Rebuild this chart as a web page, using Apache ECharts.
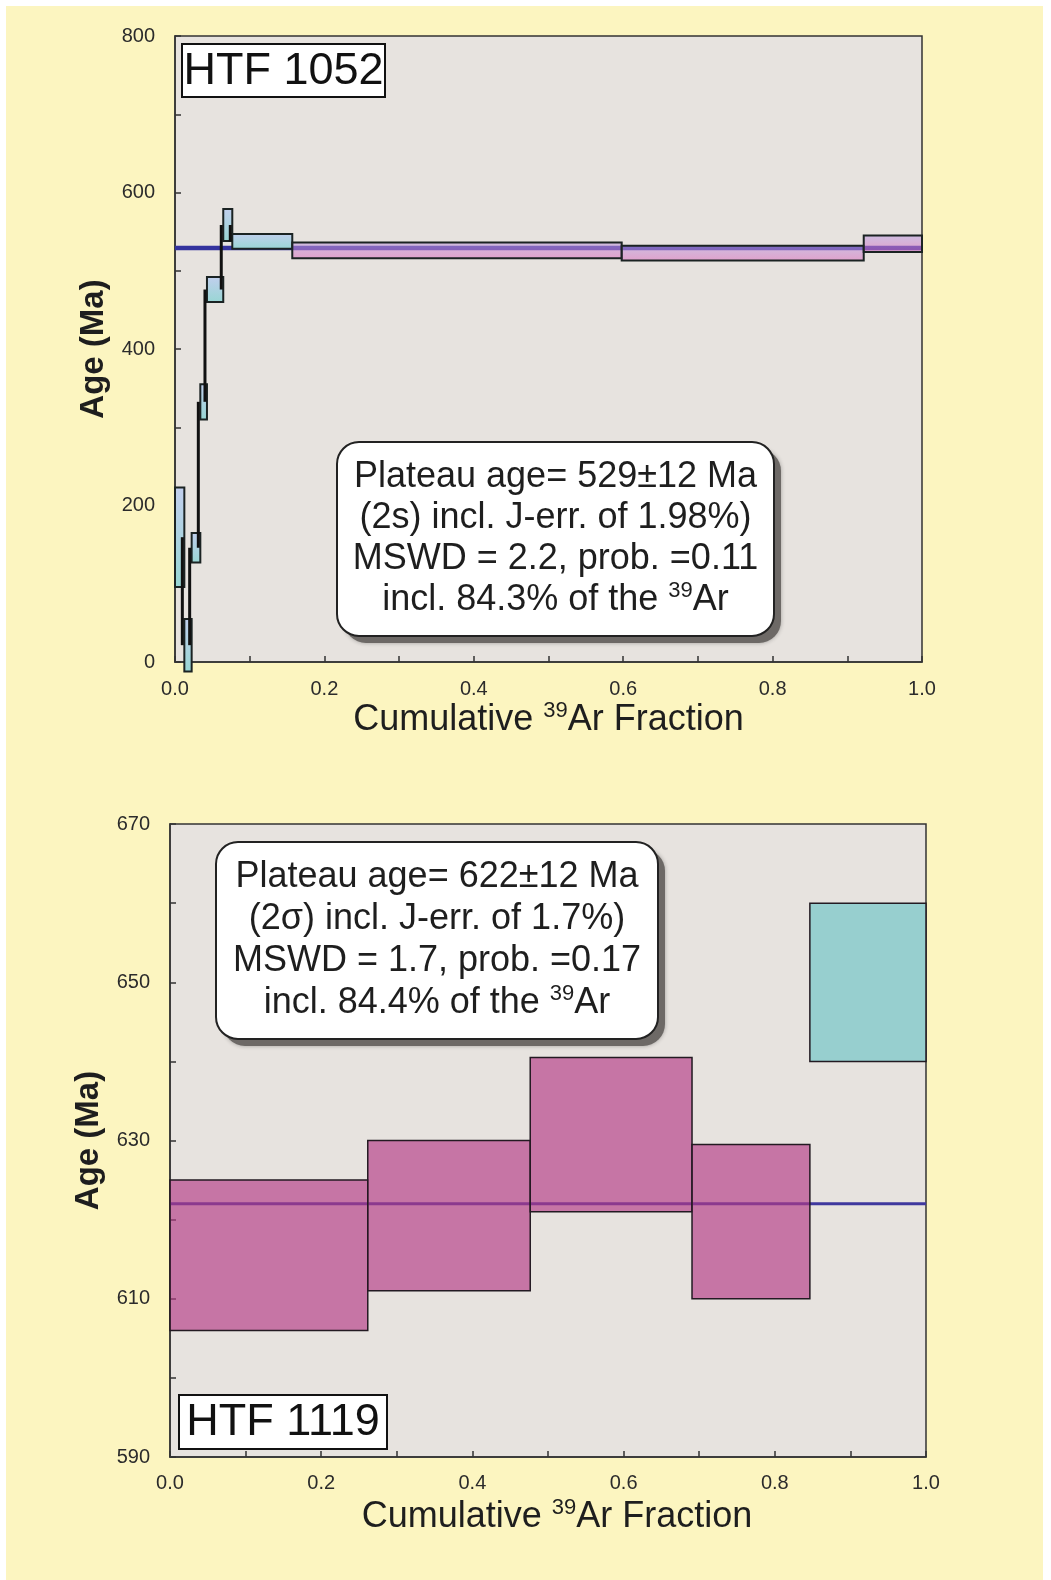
<!DOCTYPE html>
<html>
<head>
<meta charset="utf-8">
<script src="https://cdn.jsdelivr.net/npm/echarts@6/dist/echarts.min.js"></script>
<style>
  html, body { margin: 0; padding: 0; background: #ffffff; }
  #panel { position: absolute; left: 6px; top: 6px; width: 1037px; height: 1574px; background: #fcf5c0; }
  #chart { position: absolute; left: 0; top: 0; width: 1051px; height: 1580px; }
</style>
</head>
<body>
<div id="panel"></div>
<div id="chart"></div>
<script>
// ---- HTF 1052: step-heating steps (cumulative 39Ar fraction edges, 2s age limits in Ma)
const topEdges = [0, 0.0125, 0.0223, 0.0339, 0.0428, 0.0646, 0.0767, 0.157, 0.598, 0.922, 1.0];
const topLow = [96, -12, 127, 310, 460, 538, 528, 516, 513, 524];
const topHigh = [223, 55, 165, 355, 492, 579, 547, 536, 532, 545];
const topInPlateau = [0, 0, 0, 0, 0, 0, 0, 1, 1, 1];
const topPlateauAge = 529;
const topSample = 'HTF 1052';
const topInfo = ['Plateau age= 529\u00b112 Ma', '(2s) incl. J-err. of 1.98%)', 'MSWD = 2.2, prob. =0.11', 'incl. 84.3% of the {sup|39}Ar'];

// ---- HTF 1119
const botEdges = [0, 0.2616, 0.4765, 0.6905, 0.8464, 1.0];
const botLow = [606, 611, 621, 610, 640];
const botHigh = [625, 630, 640.5, 629.5, 660];
const botInPlateau = [1, 1, 1, 1, 0];
const botPlateauAge = 622;
const botSample = 'HTF 1119';
const botInfo = ['Plateau age= 622\u00b112 Ma', '(2\u03c3) incl. J-err. of 1.7%)', 'MSWD = 1.7, prob. =0.17', 'incl. 84.4% of the {sup|39}Ar'];

// ---- axis ticks
const topAgeTicks = { min: 0, max: 800, step: 200 };
const botAgeTicks = { min: 590, max: 670, step: 20 };
const fracTicks = { min: 0, max: 1, step: 0.2 };

const FONT = '"Liberation Sans", Arial, sans-serif';

function stepRows(edges, low, high, flags) {
  return low.map((v, i) => [edges[i], edges[i + 1], v, high[i], flags[i]]);
}
// vertical joins between the mid-points of consecutive non-plateau steps
function joinRows(edges, low, high, flags) {
  const rows = [];
  for (let i = 0; i < low.length - 1; i++) {
    if (flags[i] || flags[i + 1]) continue;
    rows.push([edges[i + 1], (low[i] + high[i]) / 2, (low[i + 1] + high[i + 1]) / 2]);
  }
  return rows;
}

const chart = echarts.init(document.getElementById('chart'), null, { renderer: 'canvas' });

const topCyan = new echarts.graphic.LinearGradient(0, 0, 0, 1, [
  { offset: 0, color: '#c2cfee' }, { offset: 1, color: '#97d6d3' }]);
const topPink = new echarts.graphic.LinearGradient(0, 0, 0, 1, [
  { offset: 0, color: 'rgba(185,160,228,0.55)' }, { offset: 1, color: 'rgba(220,105,185,0.55)' }]);

function boxRenderer(fillPlateau, fillOther, stroke, lw) {
  return function (params, api) {
    const a = api.coord([api.value(0), api.value(3)]);
    const b = api.coord([api.value(1), api.value(2)]);
    return {
      type: 'rect',
      shape: { x: a[0], y: a[1], width: b[0] - a[0], height: b[1] - a[1] },
      style: { fill: api.value(4) ? fillPlateau : fillOther, stroke: stroke, lineWidth: lw }
    };
  };
}

function valueAxis(gridIndex, t, extra) {
  return Object.assign({
    type: 'value', gridIndex: gridIndex, min: t.min, max: t.max, interval: t.step,
    axisLine: { show: true, lineStyle: { color: '#333', width: 1.5 } },
    axisTick: { show: true, inside: true, length: 6, lineStyle: { color: '#333', width: 1.5 } },
    minorTick: { show: true, splitNumber: 2, length: 6, lineStyle: { color: '#333', width: 1.5 } },
    splitLine: { show: false }
  }, extra);
}

const xName = 'Cumulative {sup|39}Ar Fraction';
function xNameStyle(pad) {
  return {
    fontFamily: FONT, fontSize: 36, color: '#1e1e1e', padding: pad, lineHeight: 40,
    rich: { sup: { fontFamily: FONT, fontSize: 22, color: '#1e1e1e', verticalAlign: 'top', lineHeight: 26 } }
  };
}
const yNameStyle = { fontFamily: FONT, fontSize: 33, fontWeight: 'bold', color: '#1e1e1e' };
const tickFont = { fontFamily: FONT, fontSize: 20, color: '#2b2b2b' };

function infoBox(x, y, w, h, lines, lh) {
  return {
    type: 'group', left: x, top: y, z: 100,
    children: [
      { type: 'rect', shape: { x: 7, y: 7, width: w, height: h, r: 22 }, style: { fill: '#6d6966', shadowBlur: 4, shadowColor: 'rgba(0,0,0,0.3)' } },
      { type: 'rect', shape: { x: 0, y: 0, width: w, height: h, r: 22 }, style: { fill: '#ffffff', stroke: '#222', lineWidth: 2 } },
      {
        type: 'text', x: w / 2, y: h / 2,
        style: {
          text: lines.join('\n'), fontFamily: FONT, fontSize: 36, fill: '#1e1e1e',
          align: 'center', verticalAlign: 'middle', lineHeight: lh,
          rich: { sup: { fontFamily: FONT, fontSize: 22, fill: '#1e1e1e', verticalAlign: 'top', lineHeight: lh - 8 } }
        }
      }
    ]
  };
}
function sampleBox(x, y, w, h, label) {
  return {
    type: 'group', left: x, top: y, z: 100,
    children: [
      { type: 'rect', shape: { x: 0, y: 0, width: w, height: h }, style: { fill: '#ffffff', stroke: '#111', lineWidth: 2 } },
      { type: 'text', x: w / 2, y: h / 2 + 1, style: { text: label, fontFamily: FONT, fontSize: 45, fill: '#111', align: 'center', verticalAlign: 'middle' } }
    ]
  };
}

const option = {
  backgroundColor: 'transparent',
  animation: false,
  grid: [
    { left: 175, top: 36, width: 747, height: 626, show: true, backgroundColor: '#e7e3df', borderColor: '#333', borderWidth: 1.5 },
    { left: 170, top: 824, width: 756, height: 633, show: true, backgroundColor: '#e7e3df', borderColor: '#333', borderWidth: 1.5 }
  ],
  xAxis: [
    valueAxis(0, fracTicks, { axisLabel: Object.assign({ margin: 17, formatter: v => v.toFixed(1) }, tickFont),
      name: xName, nameLocation: 'middle', nameGap: 36, nameTextStyle: xNameStyle([0, 0, 0, 0]) }),
    valueAxis(1, fracTicks, { axisLabel: Object.assign({ margin: 16, formatter: v => v.toFixed(1) }, tickFont),
      name: xName, nameLocation: 'middle', nameGap: 40, nameTextStyle: xNameStyle([0, 0, 0, 18]) })
  ],
  yAxis: [
    valueAxis(0, topAgeTicks, { axisLabel: Object.assign({ margin: 20 }, tickFont),
      name: 'Age (Ma)', nameLocation: 'middle', nameGap: 60, nameTextStyle: yNameStyle }),
    valueAxis(1, botAgeTicks, { axisLabel: Object.assign({ margin: 20 }, tickFont),
      name: 'Age (Ma)', nameLocation: 'middle', nameGap: 64, nameTextStyle: yNameStyle })
  ],
  series: [
    {
      type: 'line', xAxisIndex: 0, yAxisIndex: 0, z: 2, symbol: 'none', silent: true,
      data: [[fracTicks.min, topPlateauAge], [fracTicks.max, topPlateauAge]],
      lineStyle: { color: '#34339e', width: 4.5 }
    },
    {
      type: 'custom', xAxisIndex: 0, yAxisIndex: 0, z: 3, clip: false,
      data: stepRows(topEdges, topLow, topHigh, topInPlateau),
      renderItem: boxRenderer(topPink, topCyan, '#1b2323', 2)
    },
    {
      type: 'custom', xAxisIndex: 0, yAxisIndex: 0, z: 4, clip: false,
      data: joinRows(topEdges, topLow, topHigh, topInPlateau),
      renderItem: function (params, api) {
        const a = api.coord([api.value(0), api.value(1)]);
        const b = api.coord([api.value(0), api.value(2)]);
        return { type: 'line', shape: { x1: a[0] - 2, y1: a[1], x2: b[0] - 2, y2: b[1] }, style: { stroke: '#111', lineWidth: 3 } };
      }
    },
    {
      type: 'line', xAxisIndex: 1, yAxisIndex: 1, z: 2, symbol: 'none', silent: true,
      data: [[fracTicks.min, botPlateauAge], [fracTicks.max, botPlateauAge]],
      lineStyle: { color: '#3f389e', width: 3 }
    },
    {
      type: 'custom', xAxisIndex: 1, yAxisIndex: 1, z: 3, clip: false,
      data: stepRows(botEdges, botLow, botHigh, botInPlateau),
      renderItem: boxRenderer('rgba(180,58,134,0.65)', '#97cfcf', '#231a22', 1.5)
    }
  ],
  graphic: [
    sampleBox(181, 43, 203, 53, topSample),
    sampleBox(178, 1394, 208, 54, botSample),
    infoBox(336, 441, 437, 194, topInfo, 41),
    infoBox(215, 841, 442, 197, botInfo, 42)
  ]
};
chart.setOption(option);
</script>
</body>
</html>
